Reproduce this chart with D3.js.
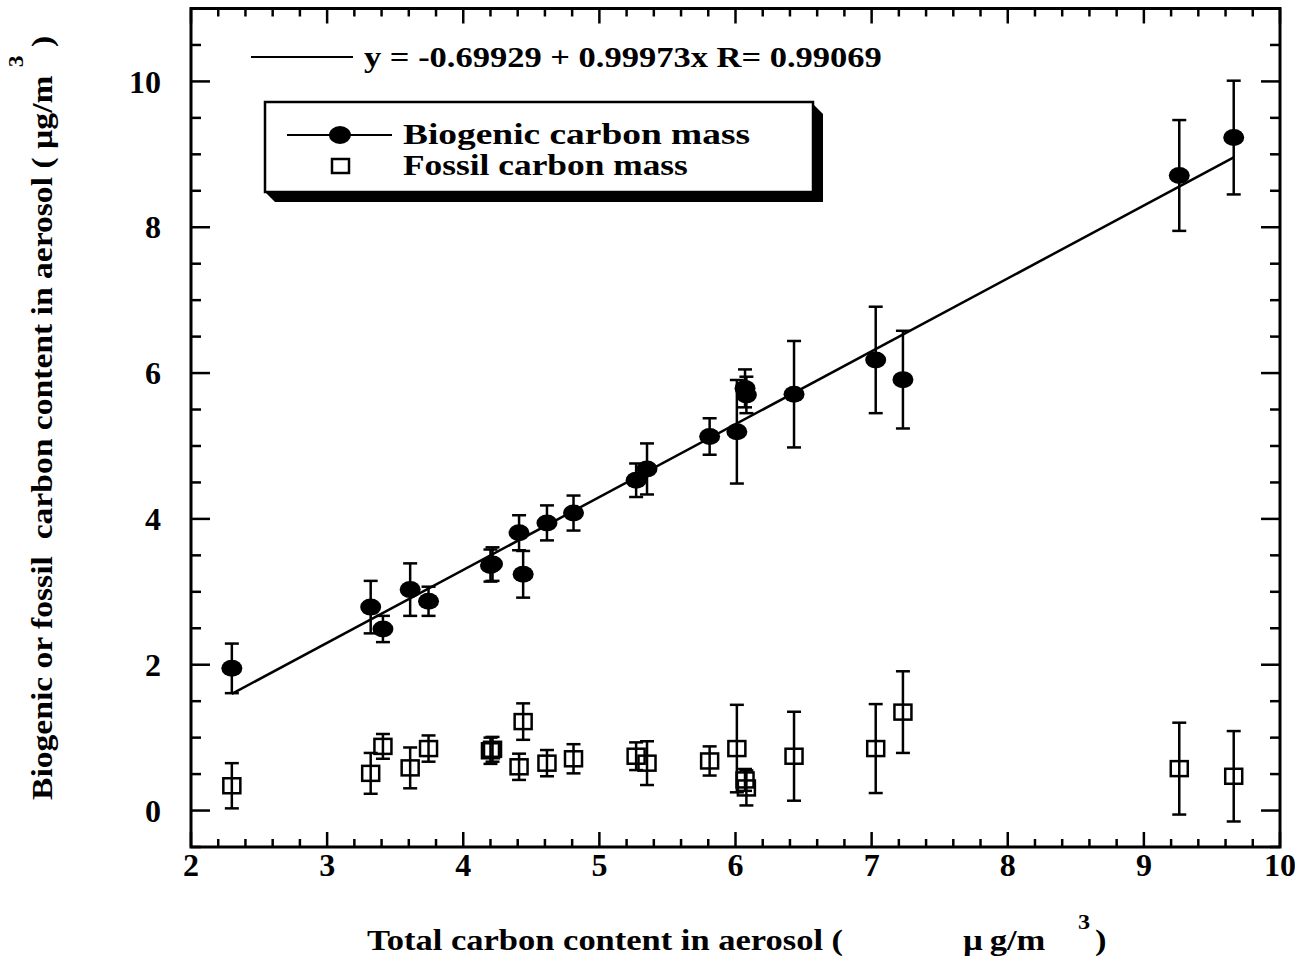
<!DOCTYPE html>
<html>
<head>
<meta charset="utf-8">
<script src="https://cdn.jsdelivr.net/npm/d3@7"></script>
<style>
  html, body { margin: 0; padding: 0; background: #fff; }
  svg { display: block; }
  text { font-family: "Liberation Serif", "Times New Roman", serif; font-weight: bold; fill: #000; }
</style>
</head>
<body>
<script>
// ---- data ----
const totalC = [2.30,3.32,3.41,3.61,3.745,4.20,4.215,4.41,4.44,4.615,4.81,5.27,5.35,5.81,6.01,6.07,6.08,6.43,7.03,7.23,9.26,9.66];
const bioC   = [1.95,2.79,2.49,3.03,2.87,3.36,3.38,3.81,3.24,3.945,4.08,4.53,4.685,5.13,5.195,5.79,5.70,5.71,6.18,5.91,8.71,9.23];
const bioErr = [0.34,0.36,0.18,0.36,0.20,0.22,0.23,0.24,0.32,0.24,0.24,0.23,0.35,0.25,0.71,0.26,0.25,0.73,0.73,0.67,0.76,0.78];
const fosC   = [0.34,0.51,0.88,0.585,0.85,0.82,0.84,0.60,1.22,0.65,0.71,0.745,0.65,0.68,0.85,0.42,0.31,0.745,0.85,1.35,0.575,0.47];
const fosErr = [0.31,0.28,0.17,0.28,0.18,0.18,0.17,0.18,0.25,0.18,0.20,0.19,0.30,0.20,0.60,0.15,0.24,0.61,0.61,0.56,0.63,0.62];
const fitIntercept = -0.69929, fitSlope = 0.99973;
const fitRange = [2.30, 9.66];
const xTicks = [2,3,4,5,6,7,8,9,10];
const yTicks = [0,2,4,6,8,10];
const fitLabel = "y = -0.69929 + 0.99973x R= 0.99069";
const seriesNames = ["Biogenic carbon mass", "Fossil carbon mass"];

// ---- layout ----
const W = 1295, H = 966;
const L = 191, R = 1280, T = 8.5, B = 847;
const K = 1.15; // horizontal stretch of the lettering
const svg = d3.select("body").append("svg").attr("width", W).attr("height", H);
const x = d3.scaleLinear().domain([2, 10]).range([L, R]);
const y = d3.scaleLinear().domain([-0.5, 11]).range([B, T]);

function stext(px, py, str, size, k, anchor) {
  return svg.append("text")
    .attr("transform", `translate(${px},${py}) scale(${k},1)`)
    .attr("font-size", size).attr("text-anchor", anchor || "start")
    .attr("xml:space", "preserve").style("white-space", "pre").text(str);
}

// ticks (inward, mirrored)
const xMinor = d3.range(2, 10.001, 0.2).map(v => +v.toFixed(2));
const yMinor = d3.range(-0.5, 11.001, 0.5).map(v => +v.toFixed(2));
const isMajorX = v => Math.abs(v - Math.round(v)) < 1e-6;
const isMajorY = v => Math.abs(v/2 - Math.round(v/2)) < 1e-6;
const tk = svg.append("g").attr("stroke", "#000").attr("stroke-width", 2.5);
xMinor.forEach(v => {
  const len = isMajorX(v) ? 15 : 8;
  tk.append("line").attr("x1", x(v)).attr("x2", x(v)).attr("y1", B).attr("y2", B - len);
  tk.append("line").attr("x1", x(v)).attr("x2", x(v)).attr("y1", T).attr("y2", T + len);
});
yMinor.forEach(v => {
  const len = isMajorY(v) ? 19 : 10;
  tk.append("line").attr("y1", y(v)).attr("y2", y(v)).attr("x1", L).attr("x2", L + len);
  tk.append("line").attr("y1", y(v)).attr("y2", y(v)).attr("x1", R).attr("x2", R - len);
});
svg.append("rect").attr("x", L).attr("y", T).attr("width", R - L).attr("height", B - T)
  .attr("fill", "none").attr("stroke", "#000").attr("stroke-width", 3);

// tick labels
svg.append("g").selectAll("text").data(xTicks).join("text")
  .attr("x", d => x(d)).attr("y", 876).attr("text-anchor", "middle")
  .attr("font-size", 32).text(d => d);
svg.append("g").selectAll("text").data(yTicks).join("text")
  .attr("x", 161).attr("y", d => y(d)).attr("dy", "0.35em").attr("text-anchor", "end")
  .attr("font-size", 32).text(d => d);

// axis titles
stext(367, 950, "Total carbon content in aerosol (", 30, K);
stext(963, 950, "\u00b5\u2009g/m", 30, K);
stext(1078, 929, "3", 21, K);
stext(1095, 950, ")", 30, K);

const yt = svg.append("text").attr("transform", `translate(52,800) rotate(-90) scale(1.12,1)`)
  .attr("font-size", 30).attr("xml:space", "preserve").style("white-space", "pre");
yt.append("tspan").text("Biogenic or fossil  carbon content in aerosol ( \u00b5g/m ");
yt.append("tspan").attr("font-size", 21).attr("dy", -29).text("3");
yt.append("tspan").attr("dy", 29).text(" )");

// fit line
svg.append("line")
  .attr("x1", x(fitRange[0])).attr("y1", y(fitIntercept + fitSlope * fitRange[0]))
  .attr("x2", x(fitRange[1])).attr("y2", y(fitIntercept + fitSlope * fitRange[1]))
  .attr("stroke", "#000").attr("stroke-width", 2.5);

// error bars
function errBars(vals, errs) {
  const g = svg.append("g").attr("stroke", "#000").attr("stroke-width", 2.5);
  totalC.forEach((t, i) => {
    const cx = x(t), y1 = y(vals[i] + errs[i]), y2 = y(vals[i] - errs[i]);
    g.append("line").attr("x1", cx).attr("x2", cx).attr("y1", y1).attr("y2", y2);
    g.append("line").attr("x1", cx - 7).attr("x2", cx + 7).attr("y1", y1).attr("y2", y1);
    g.append("line").attr("x1", cx - 7).attr("x2", cx + 7).attr("y1", y2).attr("y2", y2);
  });
}
errBars(fosC, fosErr);
errBars(bioC, bioErr);

// fossil squares
svg.append("g").selectAll("rect").data(totalC).join("rect")
  .attr("x", d => x(d) - 8.5).attr("y", (d, i) => y(fosC[i]) - 7.5)
  .attr("width", 17).attr("height", 15)
  .attr("fill", "none").attr("stroke", "#000").attr("stroke-width", 2.5);
// biogenic ellipses
svg.append("g").selectAll("ellipse").data(totalC).join("ellipse")
  .attr("cx", d => x(d)).attr("cy", (d, i) => y(bioC[i]))
  .attr("rx", 10.5).attr("ry", 8.5).attr("fill", "#000");

// fit legend
svg.append("line").attr("x1", 251).attr("x2", 353).attr("y1", 57).attr("y2", 57)
  .attr("stroke", "#000").attr("stroke-width", 2);
stext(364, 67, fitLabel, 30, K);

// series legend box with shadow
const bx = 265, by = 102, bw = 548, bh = 90, sh = 10;
svg.append("path")
  .attr("d", `M${bx + bw},${by + 2} L${bx + bw + sh},${by + 2 + sh} L${bx + bw + sh},${by + bh + sh} L${bx + sh},${by + bh + sh} L${bx},${by + bh} Z`)
  .attr("fill", "#000");
svg.append("rect").attr("x", bx).attr("y", by).attr("width", bw).attr("height", bh)
  .attr("fill", "#fff").attr("stroke", "#000").attr("stroke-width", 2.5);
svg.append("line").attr("x1", 287).attr("x2", 392).attr("y1", 135).attr("y2", 135)
  .attr("stroke", "#000").attr("stroke-width", 2);
svg.append("ellipse").attr("cx", 340).attr("cy", 135).attr("rx", 11).attr("ry", 9).attr("fill", "#000");
svg.append("rect").attr("x", 332).attr("y", 159).attr("width", 17).attr("height", 14)
  .attr("fill", "none").attr("stroke", "#000").attr("stroke-width", 2.5);
stext(403, 144, seriesNames[0], 29, 1.29);
stext(403, 175, seriesNames[1], 29, 1.22);
</script>
</body>
</html>
